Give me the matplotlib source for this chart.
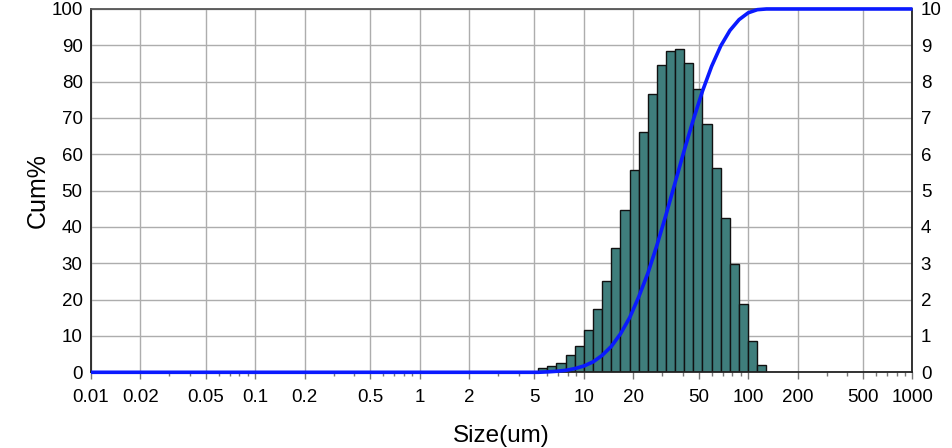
import matplotlib
matplotlib.use("Agg")
import matplotlib.pyplot as plt
from matplotlib.ticker import FixedLocator, NullFormatter, FixedFormatter
import numpy as np

plt.rcParams['font.family'] = ['Liberation Sans', 'DejaVu Sans']

# Size channels (lower / upper edges, um) and percentage in each channel
lower_um = [5.27, 5.99, 6.81, 7.74, 8.80, 10.0, 11.4, 12.9, 14.7, 16.7, 19.0, 21.5,
            24.5, 27.8, 31.6, 35.9, 40.8, 46.4, 52.7, 59.9, 68.1, 77.4, 88.0, 100.0,
            113.6]
upper_um = [5.99, 6.81, 7.74, 8.80, 10.0, 11.4, 12.9, 14.7, 16.7, 19.0, 21.5, 24.5,
            27.8, 31.6, 35.9, 40.8, 46.4, 52.7, 59.9, 68.1, 77.4, 88.0, 100.0, 113.6,
            129.2]
q_pct = [0.11, 0.165, 0.26, 0.48, 0.72, 1.16, 1.74, 2.52, 3.43, 4.47, 5.56, 6.62,
         7.66, 8.45, 8.84, 8.90, 8.52, 7.79, 6.83, 5.62, 4.24, 2.98, 1.88, 0.86, 0.2]

x_range = (0.01, 1000)
major_ticks = [0.01, 0.02, 0.05, 0.1, 0.2, 0.5, 1, 2, 5, 10, 20, 50, 100, 200, 500, 1000]
major_labels = ["0.01", "0.02", "0.05", "0.1", "0.2", "0.5", "1", "2", "5", "10",
                "20", "50", "100", "200", "500", "1000"]
left_ticks = list(range(0, 101, 10))
right_ticks = list(range(0, 11))

# cumulative undersize curve from the channel data
cum = np.concatenate([[0.0], np.cumsum(q_pct)])
cum_x = [x_range[0]] + [lower_um[0]] + list(upper_um) + [x_range[1]]
cum_y = np.minimum([0.0] + list(cum) + [cum[-1]], 100.0)

fig = plt.figure(figsize=(9.53, 4.48), dpi=100)
rect = [0.0955, 0.169, 0.862, 0.811]
ax2 = fig.add_axes(rect)                 # channel % (right scale), drawn first
ax = fig.add_axes(rect)                  # cumulative % (left scale), on top
ax.patch.set_visible(False)

grid_c = "#adadad"
bar_c = "#3f7e7c"
line_c = "#0a1aff"
tick_fs = 13.5

# histogram bars
widths = np.array(upper_um) - np.array(lower_um)
ax2.bar(lower_um, q_pct, width=widths, align="edge", color=bar_c,
        edgecolor="#111111", linewidth=1.0, zorder=3)
ax2.set_xscale("log")
ax2.set_xlim(*x_range)
ax2.set_ylim(0, 10)
ax2.set_yticks(right_ticks)
ax2.yaxis.tick_right()
ax2.set_axisbelow(True)
ax2.xaxis.set_major_locator(FixedLocator(major_ticks))
ax2.xaxis.set_major_formatter(FixedFormatter(major_labels))
minor = [m * 10.0 ** e for e in range(-2, 3) for m in (3, 4, 6, 7, 8, 9)]
ax2.xaxis.set_minor_locator(FixedLocator(minor))
ax2.xaxis.set_minor_formatter(NullFormatter())
ax2.grid(True, which="major", color=grid_c, linewidth=1.0)
ax2.tick_params(axis="x", which="major", length=5, width=1, color="#777777",
                labelsize=tick_fs, pad=7, direction="out")
ax2.tick_params(axis="x", which="minor", length=3, width=1, color="#777777",
                direction="out")
ax2.tick_params(axis="y", length=0, labelsize=tick_fs, pad=6)
for s in ax2.spines.values():
    s.set_visible(False)
ax2.set_xlabel("Size(um)", fontsize=17.5, labelpad=14)

# cumulative line
ax.plot(cum_x, cum_y, color=line_c, linewidth=2.6, clip_on=False, zorder=5,
        solid_capstyle="butt")
ax.set_xscale("log")
ax.set_xlim(*x_range)
ax.set_ylim(0, 100)
ax.set_yticks(left_ticks)
ax.set_xticks([])
ax.set_xticks([], minor=True)
ax.tick_params(axis="y", length=0, labelsize=tick_fs, pad=6)
ax.set_ylabel("Cum%", fontsize=18, labelpad=1)
for name, s in ax.spines.items():
    s.set_color("#222222" if name != "top" else "#555555")
    s.set_linewidth(1.3)

fig.savefig("out.png", dpi=100, facecolor="white")
